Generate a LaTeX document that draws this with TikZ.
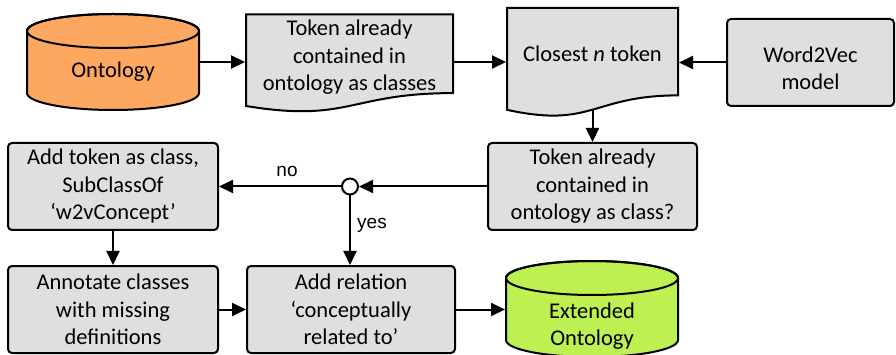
\documentclass[tikz,border=0pt]{standalone}
\usepackage{fontspec}
\setmainfont{Carlito}
\newfontfamily\lblfont{Liberation Sans}
\usetikzlibrary{arrows.meta,calc}
\definecolor{ontofill}{RGB}{253,168,96}
\definecolor{extfill}{RGB}{190,240,82}
\definecolor{boxgray}{RGB}{223,223,223}
\begin{document}
\begin{tikzpicture}[x=1pt,y=-1pt,line width=2pt,
  >={Triangle[length=14pt,width=13pt]},
  txt/.style={font=\fontsize{22.5}{27.5}\selectfont, align=center, inner sep=0pt},
  box/.style={txt, draw, fill=boxgray, rounded corners=4pt},
  lbl/.style={font=\lblfont\fontsize{19}{22}\selectfont, inner sep=0pt},
  conn/.style={->}]
\useasboundingbox (0,0) rectangle (896,355);

% Ontology cylinder
\draw[fill=ontofill] (27,31) -- (27,93) arc[start angle=180,end angle=360,x radius=86pt,y radius=17pt]
  -- (199,31) arc[start angle=0,end angle=180,x radius=86pt,y radius=17pt] -- cycle;
\draw (113,31) ellipse[x radius=86pt,y radius=17pt];
\node[txt, minimum width=172pt, minimum height=96pt] (onto) at (113,62) {};
\node[txt] (ontotext) at (113,72) {Ontology};

% Extended ontology cylinder
\draw[fill=extfill] (506,278) -- (506,340) arc[start angle=180,end angle=360,x radius=86pt,y radius=17pt]
  -- (678,278) arc[start angle=0,end angle=180,x radius=86pt,y radius=17pt] -- cycle;
\draw (592,278) ellipse[x radius=86pt,y radius=17pt];
\node[txt, minimum width=172pt] (ext) at (592,326) {Extended\\Ontology};

% Document 1
\draw[fill=boxgray] (246,14.5) -- (453,14.5) -- (453,93.1)
  .. controls (349.5,93.1) and (349.5,123) .. (246,106) -- cycle;
\node[txt, anchor=north, minimum width=207pt, minimum height=84pt] (doc1) at (349.5,14.5)
  {Token already\\contained in\\ontology as classes};

% Document 2
\draw[fill=boxgray] (507,8) -- (678,8) -- (678,95.4)
  .. controls (592.5,95.4) and (592.5,128.7) .. (507,109.8) -- cycle;
\node[txt, anchor=north, minimum width=171pt, minimum height=90pt] (doc2) at (592.5,8)
  {Closest \textit{n} token};
\coordinate (doc2b) at (592.5,110);

% Boxes
\node[box, minimum width=167pt, minimum height=87pt] (w2v) at (810.5,62.5)
  {\rule{0pt}{27pt}Word2Vec\\model};
\node[box, minimum width=209pt, minimum height=87pt] (decis) at (592.5,186.5)
  {Token already\\contained in\\ontology as class?};
\node[box, minimum width=210pt, minimum height=87pt] (addtok) at (113,186.5)
  {Add token as class,\\SubClassOf\\‘w2vConcept’};
\node[box, minimum width=210pt, minimum height=87pt] (annot) at (113,309.5)
  {Annotate classes\\with missing\\definitions};
\node[box, minimum width=208pt, minimum height=87pt] (addrel) at (351,309.5)
  {Add relation\\‘conceptually\\related to’};
\node[circle, draw, fill=white, minimum size=16pt, inner sep=0pt] (circ) at (350,186.5) {};

% Connectors
\draw[conn] (onto.east) -- (onto.east -| doc1.west);
\draw[conn] (doc1.east |- onto.east) -- (doc2.west |- onto.east);
\draw[conn] (w2v.west) -- (w2v.west -| doc2.east);
\draw[conn] (doc2b) -- (decis.north);
\draw[conn] (decis.west) -- (circ.east);
\draw[conn] (circ.west) -- (addtok.east);
\draw[conn] (circ.south) -- (circ.south |- addrel.north);
\draw[conn] (addtok.south) -- (annot.north);
\draw[conn] (annot.east) -- (addrel.west);
\draw[conn] (addrel.east) -- (addrel.east -| ext.west);

\node[lbl] (no) at (287,171) {no};
\node[lbl] (yes) at (372,225) {yes};
\end{tikzpicture}
\end{document}
